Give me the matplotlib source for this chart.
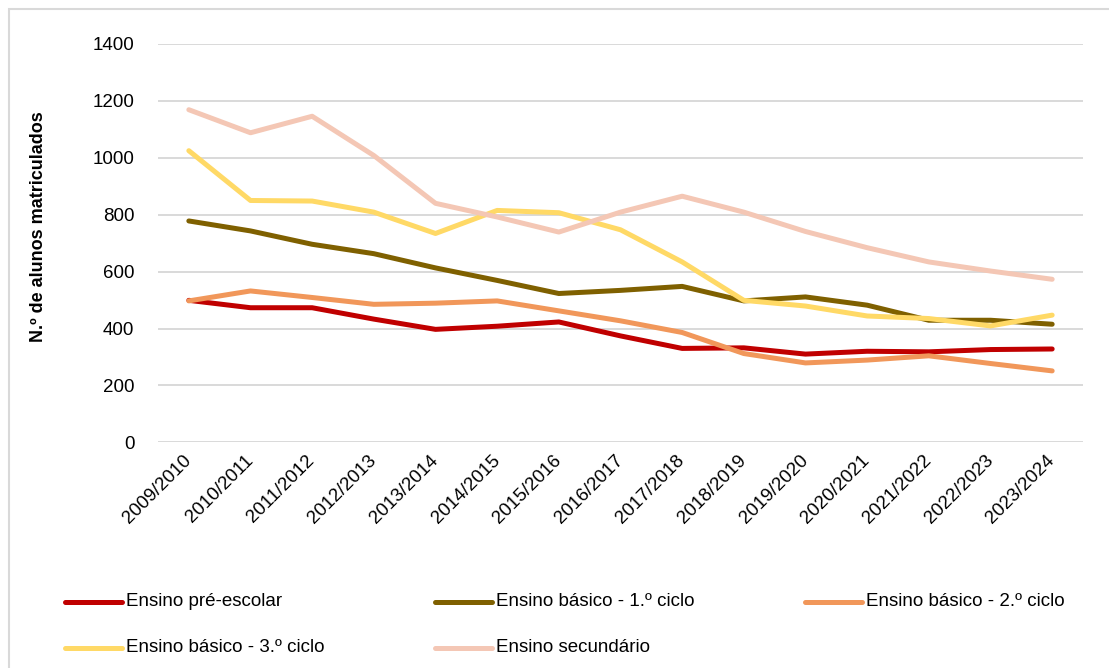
import matplotlib.pyplot as plt
from matplotlib.lines import Line2D
from matplotlib.patches import Rectangle

plt.rcParams['font.family'] = ['Liberation Sans', 'DejaVu Sans']

anos = ["2009/2010", "2010/2011", "2011/2012", "2012/2013", "2013/2014",
        "2014/2015", "2015/2016", "2016/2017", "2017/2018", "2018/2019",
        "2019/2020", "2020/2021", "2021/2022", "2022/2023", "2023/2024"]

pre_escolar = [499, 473, 473, 433, 397, 408, 423, 374, 330, 332, 310, 320, 318, 326, 328]
basico_1 = [778, 743, 696, 663, 613, 569, 523, 534, 548, 497, 511, 482, 429, 429, 415]
basico_2 = [497, 532, 509, 485, 489, 497, 462, 427, 386, 312, 279, 289, 304, 277, 251]
basico_3 = [1025, 850, 848, 809, 734, 815, 807, 747, 634, 499, 479, 444, 435, 409, 447]
secundario = [1169, 1088, 1146, 1008, 840, 792, 739, 809, 865, 809, 741, 684, 634, 602, 573]

series = [
    ("Ensino pré-escolar", pre_escolar, "#C00000"),
    ("Ensino básico - 1.º ciclo", basico_1, "#7F6000"),
    ("Ensino básico - 2.º ciclo", basico_2, "#F1975A"),
    ("Ensino básico - 3.º ciclo", basico_3, "#FFD966"),
    ("Ensino secundário", secundario, "#F4C7B5"),
]

fig = plt.figure(figsize=(11.09, 6.68), dpi=100)
ax = fig.add_axes([158/1109, 1-442.3/668, (1083-158)/1109, (442.3-44)/668])

x = list(range(len(anos)))
for nome, vals, cor in series:
    ax.plot(x, vals, color=cor, lw=3.6, solid_capstyle='round', label=nome)

ax.set_xlim(-0.5, len(anos)-0.5)
ax.set_ylim(0, 1400)
ax.set_yticks(range(0, 1401, 200))
ax.grid(axis='y', color='#D9D9D9', lw=1.4)
ax.set_axisbelow(True)
for s in ax.spines.values():
    s.set_visible(False)
ax.set_xticks(x)
ax.set_xticklabels(anos, rotation=45, ha='right', va='center', rotation_mode='anchor')
ax.tick_params(axis='both', length=0, labelsize=13.5, colors='black')
ax.tick_params(axis='y', pad=17)
ax.tick_params(axis='x', pad=11)

ax.set_ylabel("N.º de alunos matriculados", fontsize=13, fontweight='bold')
ax.yaxis.set_label_coords(47/1109, 1-227/668, transform=fig.transFigure)

# legenda ao estilo Excel
cols = [65, 435, 805]
rows = [602, 648]
for i, (nome, vals, cor) in enumerate(series):
    cx = cols[i % 3]
    cy = rows[i // 3]
    fig.add_artist(Line2D([cx/1109, (cx+57)/1109], [1-cy/668, 1-cy/668],
                          color=cor, lw=3.6, solid_capstyle='round',
                          transform=fig.transFigure))
    fig.text((cx+61)/1109, 1-cy/668, nome, fontsize=13.5, va='center', ha='left')

fig.add_artist(Rectangle((9/1109, -0.05), 1.1, 1.05-9/668, fill=False,
                         edgecolor='#D9D9D9', lw=1.5, transform=fig.transFigure,
                         clip_on=False))

plt.savefig("out.png", dpi=100)
